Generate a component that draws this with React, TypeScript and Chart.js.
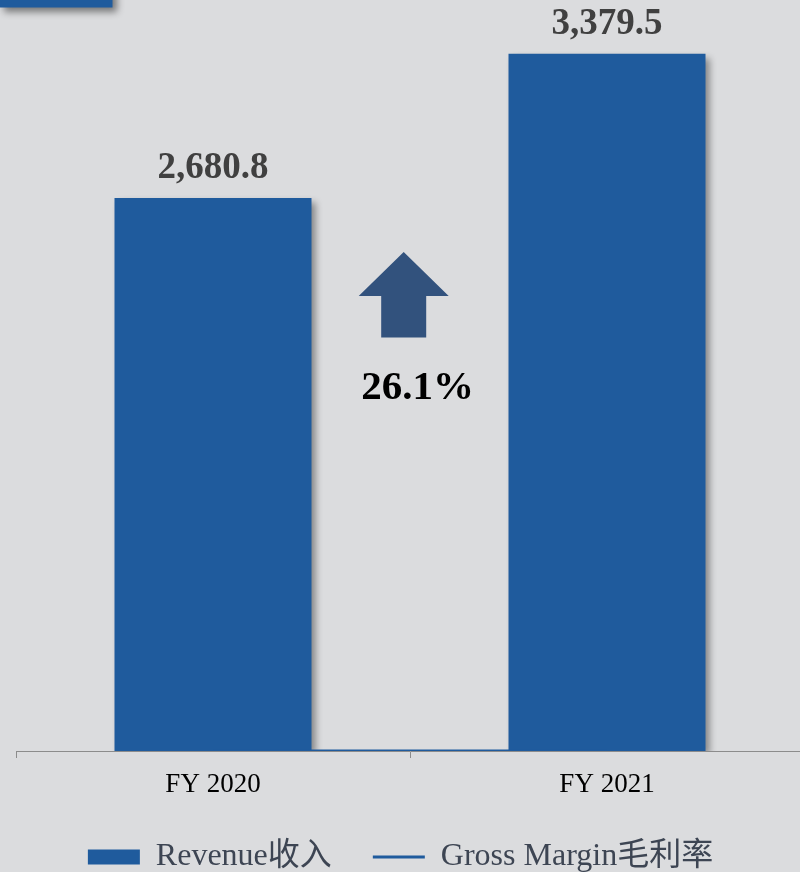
import React, { useEffect, useRef } from "react";
import { Chart, registerables } from "chart.js";

Chart.register(...registerables);

const categories = ["FY 2020", "FY 2021"];
const revenue = [2680.8, 3379.5];
const grossMargin = [0.31, 0.3];
const seriesNames = ["Revenue收入", "Gross Margin毛利率"];

const BAR_COLOR = "#1f5b9d";
const ARROW_COLOR = "#32527d";
const BG = "#dbdcde";
const SERIF = '"Liberation Serif", "Times New Roman", "Noto Sans CJK SC", serif';

const fmt = (v: number) =>
  v.toLocaleString("en-US", { minimumFractionDigits: 1, maximumFractionDigits: 1 });

const growthText = (((revenue[1] / revenue[0]) - 1) * 100).toFixed(1) + "%";

const decorPlugin = {
  id: "decor",
  afterLayout(chart: any) {
    if (chart.legend) {
      chart.legend.left -= 9.5;
      chart.legend.right -= 9.5;
    }
  },
  beforeDatasetsDraw(chart: any) {
    const ctx = chart.ctx;
    ctx.save();
    ctx.shadowColor = "rgba(0,0,0,0.45)";
    ctx.shadowBlur = 7;
    ctx.shadowOffsetX = 4;
    ctx.shadowOffsetY = 4;
    ctx.fillStyle = BAR_COLOR;
    ctx.fillRect(0, -20, 112.5, 27.5);
    ctx.restore();
  },
  beforeDatasetDraw(chart: any, args: any) {
    if (args.meta.type === "bar") {
      const ctx = chart.ctx;
      ctx.save();
      ctx.shadowColor = "rgba(0,0,0,0.4)";
      ctx.shadowBlur = 7;
      ctx.shadowOffsetX = 4;
      ctx.shadowOffsetY = 4;
    }
  },
  afterDatasetDraw(chart: any, args: any) {
    if (args.meta.type === "bar") {
      chart.ctx.restore();
    }
  },
  afterDatasetsDraw(chart: any) {
    const ctx = chart.ctx;
    const meta = chart.getDatasetMeta(0);
    ctx.save();
    ctx.fillStyle = "#404040";
    ctx.font = `bold 37px ${SERIF}`;
    ctx.textAlign = "center";
    ctx.textBaseline = "alphabetic";
    meta.data.forEach((el: any, i: number) => {
      ctx.fillText(fmt(revenue[i]), el.x, el.y - 19.5);
    });

    const xs = chart.scales.x;
    const midX = (xs.getPixelForValue(0) + xs.getPixelForValue(1)) / 2;
    const ax = midX - 6.3;
    ctx.fillStyle = ARROW_COLOR;
    ctx.beginPath();
    ctx.moveTo(ax, 252);
    ctx.lineTo(ax + 45, 296);
    ctx.lineTo(ax + 22.5, 296);
    ctx.lineTo(ax + 22.5, 337.5);
    ctx.lineTo(ax - 22.5, 337.5);
    ctx.lineTo(ax - 22.5, 296);
    ctx.lineTo(ax - 45, 296);
    ctx.closePath();
    ctx.fill();

    ctx.fillStyle = "#000000";
    ctx.font = `bold 41px ${SERIF}`;
    ctx.fillText(growthText, midX + 7.7, 399);
    ctx.restore();
  },
};

export default function App() {
  const ref = useRef<HTMLCanvasElement | null>(null);

  useEffect(() => {
    document.body.style.margin = "0";
    const canvas = ref.current;
    if (!canvas) return;
    const chart = new Chart(canvas, {
      data: {
        labels: categories,
        datasets: [
          {
            type: "bar",
            label: seriesNames[0],
            data: revenue,
            backgroundColor: BAR_COLOR,
            borderWidth: 0,
            categoryPercentage: 0.5,
            barPercentage: 1,
            order: 1,
          },
          {
            type: "line",
            label: seriesNames[1],
            data: grossMargin,
            borderColor: BAR_COLOR,
            backgroundColor: BAR_COLOR,
            borderWidth: 3,
            pointRadius: 0,
            tension: 0,
            order: 0,
          },
        ],
      } as any,
      options: {
        responsive: false,
        animation: false,
        devicePixelRatio: 1,
        layout: { padding: { left: 16, right: 4, top: 0, bottom: 0 } },
        scales: {
          x: {
            offset: true,
            grid: {
              display: true,
              offset: true,
              drawOnChartArea: false,
              drawTicks: true,
              tickLength: 7,
              color: "#8c8c8c",
            },
            border: { display: true, color: "#8c8c8c", width: 1 },
            ticks: {
              color: "#000000",
              font: { family: SERIF, size: 27 },
              padding: 11,
              maxRotation: 0,
            },
            afterFit(scale: any) {
              scale.height = 49;
            },
          },
          y: {
            display: false,
            min: 0,
            max: 3640,
          },
        },
        plugins: {
          tooltip: { enabled: false },
          legend: {
            display: true,
            position: "bottom",
            align: "center",
            labels: {
              usePointStyle: true,
              pointStyleWidth: 52,
              boxHeight: 15,
              padding: 41,
              color: "#3d4553",
              font: { family: SERIF, size: 32 },
              sort: (a: any, b: any) => a.datasetIndex - b.datasetIndex,
              generateLabels(ch: any) {
                const items = (Chart.defaults.plugins.legend.labels as any).generateLabels(ch);
                items.forEach((it: any) => {
                  if (it.datasetIndex === 0) {
                    it.pointStyle = "rect";
                    it.lineWidth = 0;
                  } else {
                    it.pointStyle = "line";
                    it.lineWidth = 3;
                    it.strokeStyle = BAR_COLOR;
                  }
                });
                return items;
              },
            },
          },
        },
      } as any,
      plugins: [decorPlugin],
    });
    return () => chart.destroy();
  }, []);

  return (
    <div style={{ width: 800, height: 872, overflow: "hidden", background: BG, position: "relative" }}>
      <canvas ref={ref} width={808} height={883} style={{ display: "block", width: 808, height: 883 }} />
    </div>
  );
}
